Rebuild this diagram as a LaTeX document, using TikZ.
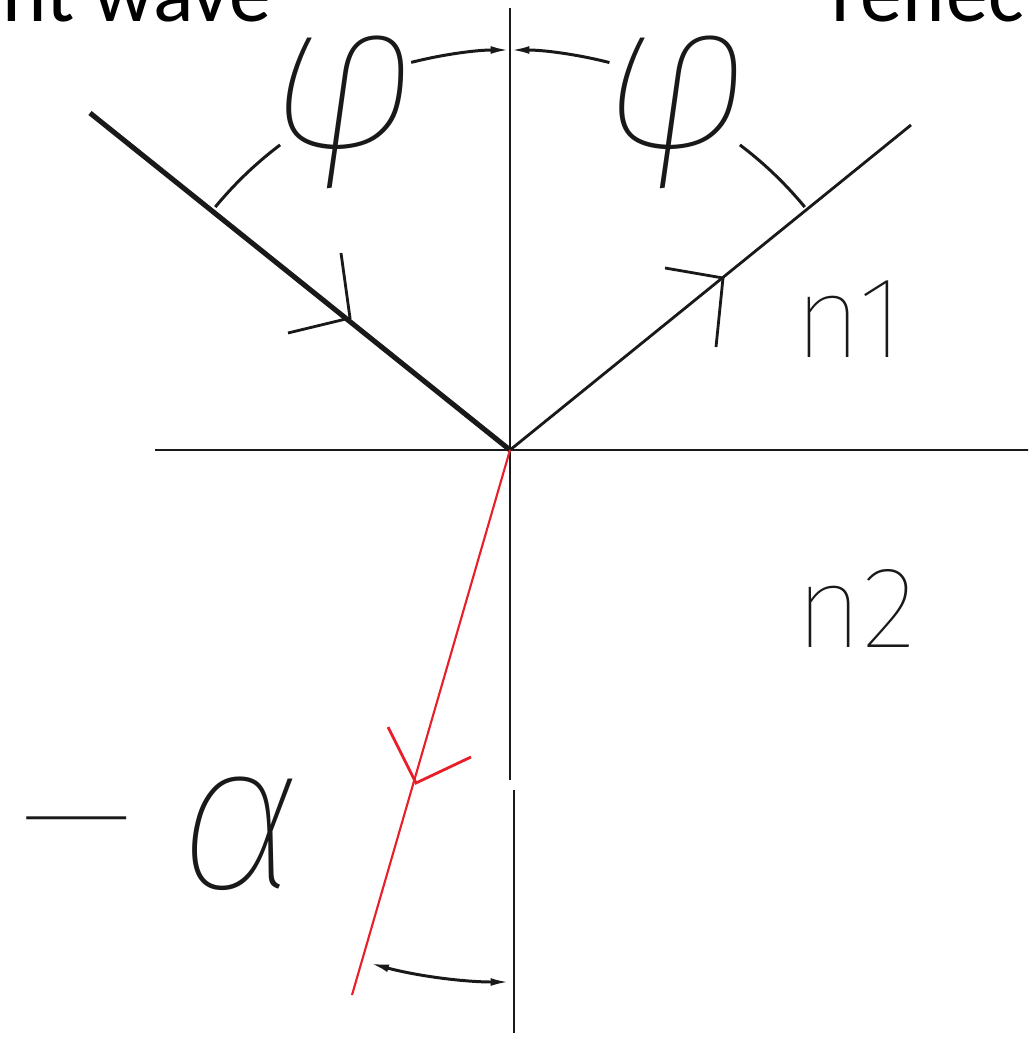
\documentclass[tikz,border=0pt]{standalone}
\usepackage{fontspec}
\usepackage{xcolor}
\usepackage{tikz}
\usetikzlibrary{arrows.meta}
\newfontfamily\hdrfont{Carlito}
\newfontfamily\cadfont{Fira Sans Thin}[ItalicFont={Fira Sans Thin Italic}]
\definecolor{figline}{RGB}{25,25,25}
\definecolor{figred}{RGB}{232,30,40}
\tikzset{
  ax/.style   ={draw=figline, line width=0.8pt},
  ray/.style  ={draw=figline, line width=0.8pt},
  rayb/.style ={draw=figline, line width=1.45pt},
  rayr/.style ={draw=figred, line width=0.6pt},
  chev/.style ={line width=0.8pt, line join=miter},
  dim/.style  ={draw=figline, line width=0.85pt},
  dimtip/.style ={-{Latex[length=5.5pt,width=2.2pt]}},
  hdr/.style  ={font=\hdrfont\fontsize{24}{28}\selectfont, inner sep=0pt},
  lab/.style  ={font=\cadfont\fontsize{33}{38}\selectfont, inner sep=0pt, text=figline},
  gk/.style   ={font=\cadfont\itshape\fontsize{60}{70}\selectfont, inner sep=0pt, text=figline,
                text height=30pt, text depth=15pt},
  gkm/.style  ={font=\cadfont\fontsize{42}{50}\selectfont, inner sep=0pt, text=figline,
                text height=16pt, text depth=2pt},
}
\begin{document}
\begin{tikzpicture}
  \useasboundingbox (0,0) rectangle (10.28,-10.37);
  \clip (0,0) rectangle (10.28,-10.37);
  % points
  \coordinate (O) at (5.10,-4.50);
  \coordinate (nt) at (5.10,-0.08);
  \coordinate (nb) at (5.10,-7.80);
  \coordinate (mt) at (5.14,-7.90);
  \coordinate (mb) at (5.14,-10.33);
  \coordinate (il) at (1.55,-4.50);
  \coordinate (ir) at (10.30,-4.50);
  \coordinate (inc) at (0.90,-1.13);
  \coordinate (refl) at (9.11,-1.25);
  \coordinate (refr) at (3.52,-9.95);
  % normal and interface
  \draw[ax] (nt) -- (nb);
  \draw[ax] (mt) -- (mb);
  \draw[ax] (il) -- (ir);
  % rays
  \draw[rayb] (inc) -- (O);
  \draw[ray] (O) -- (refl);
  \draw[rayr] (O) -- (refr);
  % chevrons
  \coordinate (c1) at (3.50,-3.18);
  \coordinate (c1a) at (3.41,-2.53);
  \coordinate (c1b) at (2.88,-3.33);
  \draw[rayb,chev] (c1a) -- (c1) -- (c1b);
  \coordinate (c2) at (7.23,-2.78);
  \coordinate (c2a) at (6.65,-2.68);
  \coordinate (c2b) at (7.16,-3.47);
  \draw[ray,chev] (c2a) -- (c2) -- (c2b);
  \coordinate (c3) at (4.16,-7.83);
  \coordinate (c3a) at (3.88,-7.27);
  \coordinate (c3b) at (4.71,-7.57);
  \draw[rayr,chev] (c3a) -- (c3) -- (c3b);
  % angle arcs
  \draw[dim,dimtip] ([shift={(104.3:4)}]O) arc[start angle=104.3,end angle=90,radius=4];
  \draw[dim,dimtip] ([shift={(75.6:4)}]O) arc[start angle=75.6,end angle=90,radius=4];
  \draw[dim] ([shift={(140.5:3.82)}]O) arc[start angle=140.5,end angle=127,radius=3.82];
  \draw[dim] ([shift={(39.5:3.82)}]O) arc[start angle=39.5,end angle=53,radius=3.82];
  \draw[dim,{Latex[length=5.5pt,width=2.2pt]}-{Latex[length=5.5pt,width=2.2pt]}] ([shift={(254.7:5.32)}]O) arc[start angle=254.7,end angle=270,radius=5.32];
  % labels
  \node[gk,anchor=base] (phil) at (3.44,-1.48) {φ};
  \node[gk,anchor=base] (phir) at (6.77,-1.48) {φ};
  \node[gkm,anchor=base] (minus) at (0.77,-8.64) {—};
  \node[gk,anchor=base] (alpha) at (2.40,-8.88) {α};
  \node[lab,anchor=base] (n1) at (8.49,-3.57) {n1};
  \node[lab,anchor=base] (n2) at (8.56,-6.47) {n2};
  \node[hdr,anchor=base east] (inclab) at (2.72,-0.22) {Incident wave};
  \node[hdr,anchor=base west] (refllab) at (8.31,-0.22) {reflected wave};
\end{tikzpicture}
\end{document}
